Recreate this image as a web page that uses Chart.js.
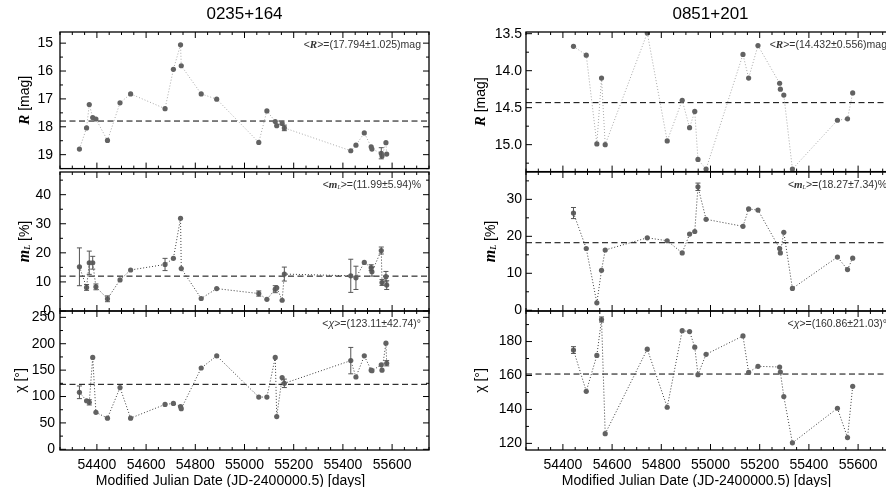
<!DOCTYPE html>
<html>
<head>
<meta charset="utf-8">
<script src="https://cdn.jsdelivr.net/npm/chart.js@4.4.0/dist/chart.umd.min.js"></script>
<style>
  html, body { margin: 0; padding: 0; background: #fff; overflow: hidden; width: 886px; height: 487px; }
  canvas { position: absolute; }
</style>
</head>
<body>
<canvas id="a1"></canvas>
<canvas id="a2"></canvas>
<canvas id="a3"></canvas>
<canvas id="b1"></canvas>
<canvas id="b2"></canvas>
<canvas id="b3"></canvas>
<script>
// shared time axis
const xMin = 54250, xMax = 55750;
const xMajor = [54400, 54600, 54800, 55000, 55200, 55400, 55600];
const xMinorStep = 50;
const xTitle = "Modified Julian Date (JD-2400000.5) [days]";

// 0235+164
const mjdA = [54329, 54358, 54369, 54383, 54396, 54443, 54494, 54537, 54677, 54711, 54740, 54743, 54824, 54887,
  55058, 55091, 55125, 55131, 55153, 55162, 55432, 55453, 55487, 55515, 55518, 55556, 55559, 55575, 55578];
const rA = [18.80, 18.04, 17.20, 17.67, 17.72, 18.49, 17.14, 16.82, 17.35, 15.94, 15.06, 15.81, 16.82, 17.01,
  18.56, 17.43, 17.81, 17.96, 17.88, 18.04, 18.86, 18.66, 18.22, 18.72, 18.80, 18.95, 19.05, 18.57, 18.98];
const rErrA = [0.03, 0.03, 0.03, 0.03, 0.03, 0.03, 0.03, 0.03, 0.03, 0.03, 0.03, 0.03, 0.03, 0.03,
  0.03, 0.03, 0.03, 0.03, 0.04, 0.1, 0.04, 0.03, 0.03, 0.04, 0.04, 0.2, 0.06, 0.03, 0.08];
const mA = [15.2, 8.1, 16.6, 16.6, 8.3, 4.2, 10.7, 14.1, 16.0, 18.1, 31.9, 14.6, 4.3, 7.7,
  6.0, 4.0, 7.5, 8.0, 3.7, 12.7, 12.1, 11.4, 16.7, 14.9, 13.5, 20.8, 9.8, 11.8, 8.9];
const mErrA = [6.5, 1.0, 4.0, 2.2, 1.0, 1.0, 0.8, 0.7, 2.1, 0.6, 0.5, 0.7, 0.5, 0.5,
  0.9, 0.5, 1.2, 0.8, 0.6, 2.4, 5.7, 4.0, 0.6, 1.0, 1.5, 1.2, 1.0, 1.8, 1.5];
const chiA = [108, 92, 89, 174, 70, 59, 117, 59, 85, 87, 81, 77, 154, 177,
  99, 99, 174, 62, 136, 125, 168, 137, 177, 150, 149, 160, 150, 201, 163];
const chiErrA = [12, 3, 5, 3, 2, 4, 2, 2, 2, 2, 2, 3, 2, 2,
  2, 2, 4, 2, 3, 8, 25, 3, 2, 3, 2, 2, 2, 3, 5];
const rTicksA = [15, 16, 17, 18, 19];
const mTicksA = [0, 10, 20, 30, 40];
const chiTicksA = [0, 50, 100, 150, 200, 250];
const meanA = { r: "17.794", rs: "1.025", m: "11.99", ms: "5.94", chi: "123.11", chis: "42.74" };

// 0851+201
const mjdB = [54443, 54495, 54538, 54557, 54572, 54743, 54824, 54885, 54915, 54936, 54949,
  54982, 55132, 55155, 55193, 55281, 55284, 55298, 55333, 55516, 55557, 55578];
const rB = [13.67, 13.79, 14.99, 14.10, 15.00, 13.49, 14.95, 14.40, 14.77, 14.55, 15.20,
  15.33, 13.78, 14.10, 13.66, 14.17, 14.25, 14.33, 15.33, 14.67, 14.65, 14.30];
const rErrB = [0.01, 0.01, 0.01, 0.01, 0.01, 0.01, 0.01, 0.01, 0.01, 0.01, 0.01,
  0.01, 0.01, 0.01, 0.01, 0.01, 0.01, 0.01, 0.01, 0.01, 0.01, 0.01];
const mB = [26.3, 16.7, 2.0, 10.8, 16.3, 19.6, 18.8, 15.5, 20.6, 21.3, 33.4,
  24.6, 22.7, 27.4, 27.1, 16.7, 15.5, 21.1, 5.9, 14.4, 11.0, 14.1];
const mErrB = [1.5, 0.6, 0.5, 0.5, 0.5, 0.4, 0.4, 0.4, 0.4, 0.4, 1.0,
  0.5, 0.4, 0.4, 0.4, 0.5, 0.5, 0.4, 0.4, 0.4, 0.4, 0.4];
const chiB = [175, 150.7, 171.8, 193, 125.7, 175.5, 141.3, 186.4, 185.9, 176.7, 160.5,
  172.5, 183.3, 161.8, 165.4, 165, 162, 147.6, 120.3, 140.7, 123.4, 153.6];
const chiErrB = [2, 0.5, 0.5, 1.5, 0.5, 0.5, 0.5, 0.5, 0.5, 0.5, 0.6,
  1.2, 0.5, 0.5, 0.5, 0.5, 0.5, 0.5, 1.0, 0.5, 0.5, 0.5];
const rTicksB = [13.5, 14.0, 14.5, 15.0];
const mTicksB = [0, 10, 20, 30];
const chiTicksB = [120, 140, 160, 180];
const meanB = { r: "14.432", rs: "0.556", m: "18.27", ms: "7.34", chi: "160.86", chis: "21.03" };

const SANS = '"Liberation Sans", Arial, sans-serif';
const SERIF = '"Liberation Serif", "Times New Roman", serif';

function drawRich(ctx, segs, x, y, align) {
  let w = 0;
  segs.forEach(s => { ctx.font = s.f; w += ctx.measureText(s.t).width; });
  let cx = align === "right" ? x - w : align === "center" ? x - w / 2 : x;
  ctx.textAlign = "left";
  ctx.textBaseline = "middle";
  segs.forEach(s => {
    ctx.font = s.f;
    ctx.fillText(s.t, cx, y + (s.dy || 0));
    cx += ctx.measureText(s.t).width;
  });
}

// frame, inward ticks, error bars and text bits (IDL style)
const panelDecor = {
  id: "panelDecor",
  afterDatasetsDraw(chart, args, o) {
    const { ctx, chartArea: a, scales: { x, y } } = chart;
    ctx.save();
    ctx.beginPath();
    ctx.rect(a.left, a.top, a.right - a.left, a.bottom - a.top);
    ctx.clip();
    ctx.strokeStyle = "#555";
    ctx.lineWidth = 1;
    ctx.beginPath();
    o.xs.forEach((v, i) => {
      const e = o.errs[i];
      const px = x.getPixelForValue(v);
      const y1 = y.getPixelForValue(o.ys[i] - e);
      const y2 = y.getPixelForValue(o.ys[i] + e);
      if (Math.abs(y1 - y2) < 5) return;
      ctx.moveTo(px, y1); ctx.lineTo(px, y2);
      ctx.moveTo(px - 2.5, y1); ctx.lineTo(px + 2.5, y1);
      ctx.moveTo(px - 2.5, y2); ctx.lineTo(px + 2.5, y2);
    });
    ctx.stroke();
    ctx.restore();
  },
  afterDraw(chart, args, o) {
    const { ctx, chartArea: a, scales: { x, y } } = chart;
    ctx.save();
    ctx.strokeStyle = "#000";
    ctx.lineWidth = 1.3;
    ctx.strokeRect(a.left, a.top, a.right - a.left, a.bottom - a.top);
    ctx.lineWidth = 1;
    ctx.beginPath();
    for (let v = xMin; v <= xMax; v += xMinorStep) {
      const px = x.getPixelForValue(v);
      const len = xMajor.includes(v) ? 6 : 3;
      ctx.moveTo(px, a.bottom); ctx.lineTo(px, a.bottom - len);
      ctx.moveTo(px, a.top); ctx.lineTo(px, a.top + len);
    }
    const half = (o.yTicks[1] - o.yTicks[0]) / 2;
    const lo = Math.min(y.min, y.max), hi = Math.max(y.min, y.max);
    let v0 = o.yTicks[0];
    let shift = 0;
    while (v0 - half >= lo) { v0 -= half; shift++; }
    for (let k = 0; v0 + k * half <= hi + 1e-9; k++) {
      const v = v0 + k * half;
      const py = y.getPixelForValue(v);
      const len = (k - shift) % 2 === 0 ? 6 : 3;
      ctx.moveTo(a.left, py); ctx.lineTo(a.left + len, py);
      ctx.moveTo(a.right, py); ctx.lineTo(a.right - len, py);
    }
    ctx.stroke();

    ctx.fillStyle = "#333";
    drawRich(ctx, o.note, a.right - 8, a.top + 13, "right");

    ctx.fillStyle = "#000";
    ctx.save();
    ctx.translate(a.left + o.yTitleDx, (a.top + a.bottom) / 2);
    ctx.rotate(-Math.PI / 2);
    drawRich(ctx, o.yTitle, 0, 0, "center");
    ctx.restore();

    if (o.showXTitle) {
      drawRich(ctx, [{ t: xTitle, f: "14px " + SANS }], (a.left + a.right) / 2 - 14, a.bottom + 31, "center");
    }
    ctx.restore();
  }
};

function makePanel(id, p) {
  const cv = document.getElementById(id);
  cv.width = p.w;
  cv.height = p.h;
  cv.style.left = p.left + "px";
  cv.style.top = p.top + "px";
  const pts = p.xs.map((v, i) => ({ x: v, y: p.ys[i] }));
  new Chart(cv, {
    type: "scatter",
    data: {
      datasets: [
        { data: pts, showLine: true, borderColor: p.lineColor, borderWidth: 1, borderDash: [1, 2],
          pointRadius: 2.6, pointBackgroundColor: "#626262", pointBorderWidth: 0 },
        { data: [{ x: xMin, y: p.mean }, { x: xMax, y: p.mean }], showLine: true,
          borderColor: "#000", borderWidth: 1, borderDash: [6, 3.5], pointRadius: 0 }
      ]
    },
    options: {
      responsive: false,
      animation: false,
      events: [],
      layout: { padding: p.pad },
      plugins: {
        legend: { display: false },
        tooltip: { enabled: false },
        title: p.title ? {
          display: true, text: p.title, fullSize: false, color: "#000",
          font: { family: SANS, size: 17, weight: "normal", lineHeight: 1.2 },
          padding: { top: 4, bottom: 7.6 }
        } : { display: false },
        panelDecor: {
          xs: p.xs, ys: p.ys, errs: p.errs, yTicks: p.yTicks, note: p.note,
          yTitle: p.yTitle, yTitleDx: p.yTitleDx, showXTitle: p.showX
        }
      },
      scales: {
        x: {
          type: "linear", min: xMin, max: xMax, display: p.showX,
          grid: { display: false, drawTicks: false }, border: { display: false },
          afterBuildTicks: s => { s.ticks = xMajor.map(v => ({ value: v })); },
          afterFit: s => { s.height = p.showX ? 40 : 0; },
          ticks: { color: "#000", padding: 7, font: { family: SANS, size: 14 }, callback: v => String(v) }
        },
        y: {
          type: "linear", min: p.yMin, max: p.yMax, reverse: !!p.reverse,
          grid: { display: false, drawTicks: false }, border: { display: false },
          afterBuildTicks: s => { s.ticks = p.yTicks.map(v => ({ value: v })); },
          afterFit: s => { s.width = p.yWidth; },
          ticks: { color: "#000", padding: p.tickPad, font: { family: SANS, size: 14 },
            callback: v => p.fmt ? p.fmt(v) : String(v) }
        }
      }
    },
    plugins: [panelDecor]
  });
}

const lab = {
  r: [{ t: "R", f: "bold italic 15px " + SERIF }, { t: " [mag]", f: "14px " + SANS }],
  m: [{ t: "m", f: "bold italic 16px " + SERIF }, { t: "L", f: "bold italic 8px " + SERIF, dy: 3 },
      { t: " [%]", f: "14px " + SANS }],
  chi: [{ t: "\u03c7 [\u00b0]", f: "14px " + SANS }]
};

function notes(mn) {
  const f = "10.5px " + SANS;
  return {
    r: [{ t: "<", f }, { t: "R", f: "bold italic 11px " + SERIF }, { t: ">=(" + mn.r + "\u00b1" + mn.rs + ")mag", f }],
    m: [{ t: "<", f }, { t: "m", f: "bold italic 11px " + SERIF }, { t: "L", f: "italic 6px " + SERIF, dy: 2 },
        { t: ">=(" + mn.m + "\u00b1" + mn.ms + ")%", f }],
    chi: [{ t: "<", f }, { t: "\u03c7", f: "italic 10.5px " + SANS }, { t: ">=(" + mn.chi + "\u00b1" + mn.chis + ")\u00b0", f }]
  };
}

const nA = notes(meanA), nB = notes(meanB);
const light = "#a8a8a8", dark = "#3a3a3a";

// left column: plot area x 60..429
makePanel("a1", { left: 0, top: 0, w: 443, h: 184, pad: { left: 0, right: 14, top: 0, bottom: 12 }, yWidth: 60,
  title: "0235+164", xs: mjdA, ys: rA, errs: rErrA, mean: 17.794, yMin: 14.6, yMax: 19.5, reverse: true,
  yTicks: rTicksA, note: nA.r, yTitle: lab.r, yTitleDx: -35, tickPad: 7, lineColor: light, showX: false });
makePanel("a2", { left: 0, top: 152, w: 443, h: 179, pad: { left: 0, right: 14, top: 20, bottom: 20 }, yWidth: 60,
  xs: mjdA, ys: mA, errs: mErrA, mean: 11.99, yMin: 0, yMax: 47.8,
  yTicks: mTicksA, note: nA.m, yTitle: lab.m, yTitleDx: -35, tickPad: 9, lineColor: dark, showX: false });
makePanel("a3", { left: 0, top: 291, w: 443, h: 199, pad: { left: 0, right: 14, top: 20, bottom: 0 }, yWidth: 60,
  xs: mjdA, ys: chiA, errs: chiErrA, mean: 123.11, yMin: -1.3, yMax: 262,
  yTicks: chiTicksA, note: nA.chi, yTitle: lab.chi, yTitleDx: -39, tickPad: 5, lineColor: dark, showX: true });

// right column: plot area x 526..895 (runs past the window edge)
makePanel("b1", { left: 443, top: 0, w: 460, h: 184, pad: { left: 0, right: 8, top: 0, bottom: 12 }, yWidth: 83,
  title: "0851+201", xs: mjdB, ys: rB, errs: rErrB, mean: 14.432, yMin: 13.477, yMax: 15.364, reverse: true,
  yTicks: rTicksB, note: nB.r, yTitle: lab.r, yTitleDx: -45, tickPad: 4, lineColor: light, showX: false,
  fmt: v => v.toFixed(1) });
makePanel("b2", { left: 443, top: 152, w: 460, h: 179, pad: { left: 0, right: 8, top: 20, bottom: 20 }, yWidth: 83,
  xs: mjdB, ys: mB, errs: mErrB, mean: 18.27, yMin: -0.2, yMax: 37.4,
  yTicks: mTicksB, note: nB.m, yTitle: lab.m, yTitleDx: -35, tickPad: 4, lineColor: dark, showX: false });
makePanel("b3", { left: 443, top: 291, w: 460, h: 199, pad: { left: 0, right: 8, top: 20, bottom: 0 }, yWidth: 83,
  xs: mjdB, ys: chiB, errs: chiErrB, mean: 160.86, yMin: 116.1, yMax: 198,
  yTicks: chiTicksB, note: nB.chi, yTitle: lab.chi, yTitleDx: -45, tickPad: 4, lineColor: dark, showX: true });
</script>
</body>
</html>
